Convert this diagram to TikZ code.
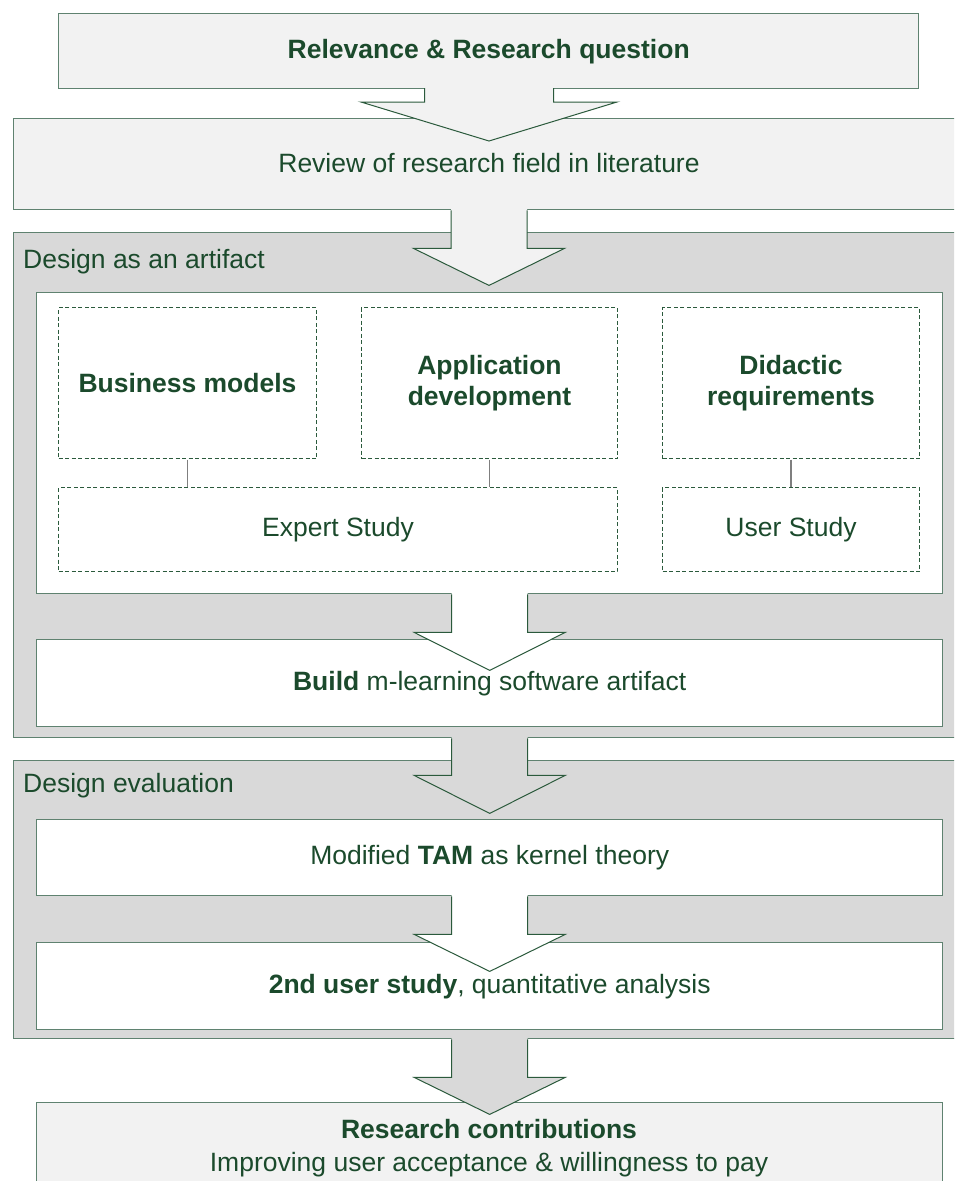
\documentclass[tikz,border=0pt]{standalone}
\usepackage{fontspec}
\setmainfont{Liberation Sans}
\usetikzlibrary{calc}
\definecolor{txt}{HTML}{1B4A2C}
\definecolor{bord}{HTML}{5F8270}
\definecolor{dk}{HTML}{2B5A3C}
\definecolor{lgray}{HTML}{F2F2F2}
\definecolor{mgray}{HTML}{D9D9D9}
\definecolor{conn}{HTML}{7F7F7F}
\tikzset{
  box/.style={draw=bord, line width=1.4pt, inner sep=0pt, anchor=north west, text=txt,
    font=\fontsize{26.5}{31.5}\selectfont, align=center},
  dbox/.style={draw=dk, line width=1pt, dash pattern=on 4pt off 2.5pt, inner sep=0pt,
    anchor=north west, text=txt, font=\fontsize{26.5}{31.5}\selectfont, align=center},
  lbl/.style={inner sep=0pt, anchor=west, text=txt, font=\fontsize{26.5}{31.5}\selectfont},
  conline/.style={draw=conn, line width=1.4pt},
  arrowline/.style={draw=dk, line width=1pt, line join=miter}
}
% #1 start coordinate, #2 shaft half width, #3 shaft length, #4 head half width, #5 head length, #6 fill
\newcommand\blockarrow[6]{%
  \fill[#6] ($(#1)+(-#2,-1.5)$) -- ($(#1)+(-#2,#3)$) -- ($(#1)+(-#4,#3)$) -- ($(#1)+(0,{#3+#5})$)
    -- ($(#1)+(#4,#3)$) -- ($(#1)+(#2,#3)$) -- ($(#1)+(#2,-1.5)$) -- cycle;
  \draw[arrowline] ($(#1)+(-#2,0)$) -- ($(#1)+(-#2,#3)$) -- ($(#1)+(-#4,#3)$) -- ($(#1)+(0,{#3+#5})$)
    -- ($(#1)+(#4,#3)$) -- ($(#1)+(#2,#3)$) -- ($(#1)+(#2,0)$);
}
\begin{document}
\begin{tikzpicture}[x=1pt,y=-1pt]
\useasboundingbox (0,0) rectangle (954,1181);
\clip (0,0) rectangle (954,1181);
\fill[white] (0,0) rectangle (954,1181);

% top
\node[box, fill=lgray, minimum width=860pt, minimum height=75pt] (top) at (58,13) {\textbf{Relevance \& Research question}};
\node[box, fill=lgray, minimum width=960pt, minimum height=91pt] (review) at (13,118) {};
\node[text=txt, inner sep=0pt, font=\fontsize{26.5}{31.5}\selectfont] (reviewt) at (489,163.5) {Review of research field in literature};
\coordinate (s1) at (489,88);
\blockarrow{s1}{64.5}{14}{128}{39}{lgray}

% design as an artifact
\node[box, fill=mgray, minimum width=960pt, minimum height=505pt] (design) at (13,232) {};
\node[lbl] (designl) at (23,262) {Design as an artifact};
\coordinate (s2) at (reviewt.center |- review.south);
\blockarrow{s2}{38}{38}{75.5}{37}{lgray}

\node[box, fill=white, minimum width=906pt, minimum height=301pt] (inner) at (36,292) {};
\node[dbox, minimum width=258pt, minimum height=151pt] (bm) at (58,307) {\textbf{Business models}};
\node[dbox, minimum width=256pt, minimum height=151pt] (ad) at (361,307) {\textbf{Application}\\\textbf{development}};
\node[dbox, minimum width=257pt, minimum height=151pt] (dr) at (662,307) {\textbf{Didactic}\\\textbf{requirements}};
\node[dbox, minimum width=559pt, minimum height=84pt] (es) at (58,487) {Expert Study};
\node[dbox, minimum width=257pt, minimum height=84pt] (us) at (662,487) {User Study};
\draw[conline] ($(bm.south)+(-0,0.5)$) -- ($(bm.south |- es.north)+(0,-0.5)$);
\draw[conline] ($(ad.south)+(0,0.5)$) -- ($(ad.south |- es.north)+(0,-0.5)$);
\draw[conline] ($(dr.south)+(0,0.5)$) -- ($(us.north)+(0,-0.5)$);

\node[box, fill=white, minimum width=906pt, minimum height=87pt] (build) at (36,639) {\textbf{Build} m-learning software artifact};
\coordinate (s3) at (inner.south);
\blockarrow{s3}{38}{38}{75.5}{38}{white}

% design evaluation
\node[box, fill=mgray, minimum width=960pt, minimum height=278pt] (eval) at (13,760) {};
\node[lbl] (evall) at (23,786) {Design evaluation};
\coordinate (s4) at (inner.south |- design.south);
\blockarrow{s4}{38}{37}{75.5}{38}{mgray}

\node[box, fill=white, minimum width=906pt, minimum height=76pt] (tam) at (36,819) {Modified \textbf{TAM} as kernel theory};
\node[box, fill=white, minimum width=906pt, minimum height=87pt] (second) at (36,942) {\textbf{2nd user study}, quantitative analysis};
\coordinate (s5) at (tam.south);
\blockarrow{s5}{38}{38}{75.5}{37}{white}

% research contributions
\node[box, fill=lgray, minimum width=906pt, minimum height=120pt] (research) at (36,1102) {};
\node[text=txt, inner sep=0pt, align=center, font=\fontsize{26.5}{33}\selectfont] (researcht) at (489,1148.5) {\textbf{Research contributions}\\Improving user acceptance \& willingness to pay};
\coordinate (s6) at (inner.south |- eval.south);
\blockarrow{s6}{38}{38}{75.5}{37}{mgray}
\end{tikzpicture}
\end{document}
